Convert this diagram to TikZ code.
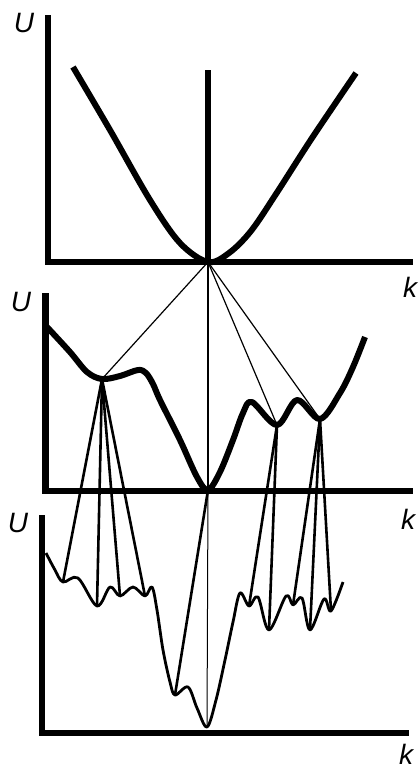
\documentclass[tikz,border=0pt]{standalone}
\usepackage{fontspec}
\setmainfont{Liberation Sans}
\tikzset{
  axis/.style={line width=6.5pt, line join=miter},
  bigcurve/.style={line width=6pt, line join=round},
  finecurve/.style={line width=2.8pt, line join=round},
  link/.style={line width=1.2pt},
  droplink/.style={line width=2.6pt},
  lbl/.style={font=\fontsize{28}{28}\selectfont\itshape, inner sep=0pt},
}
\begin{document}
\begin{tikzpicture}[x=1pt, y=-1pt]
\useasboundingbox (0,0) rectangle (420,769);
% three sets of axes
\draw[axis] (48,15) |- (413,262);
\draw[axis] (45.5,293) |- (413,491);
\draw[axis] (42,515) |- (409,733);
\node[lbl] (U1) at (24,23) {U};
\node[lbl] (k1) at (410,287) {k};
\node[lbl] (U2) at (21,302) {U};
\node[lbl] (k2) at (408,519) {k};
\node[lbl] (U3) at (18,523) {U};
\node[lbl] (k3) at (406,754) {k};
% minima
\coordinate (tO) at (208,262);
\coordinate (tTop) at (208,70);
\coordinate (mA) at (102,379);
\coordinate (mO) at (208,490);
\coordinate (mB) at (277,425);
\coordinate (mC) at (320,419);
\coordinate (bA1) at (63,582);
\coordinate (bA2) at (97,606);
\coordinate (bA3) at (120,596);
\coordinate (bA4) at (145,596);
\coordinate (bO1) at (175,695);
\coordinate (bO) at (207,727);
\coordinate (bB1) at (249,606);
\coordinate (bB2) at (269,630);
\coordinate (bC1) at (293,605);
\coordinate (bC2) at (310,630);
\coordinate (bC3) at (331,611);
% top panel: free band
\draw[bigcurve] plot[smooth, tension=0.55] coordinates {(73,67) (110,130) (150,200) (180,243) (208,262) (229,253) (251,231) (276,194) (312,138) (356,73)};
\draw[line width=5.5pt] (tTop) -- (tO);
% middle panel
\draw[bigcurve] plot[smooth, tension=0.55] coordinates {(47,327) (70,352) (87,372) (102,379) (120,376) (138,370) (146,373) (153,384) (160,400) (180,440) (197,477) (208,490) (220,472) (233,440) (243,413) (252,402) (277,425) (297,400) (320,419) (340,393) (353,367) (365,337)};
\draw[link] (tO) -- (mA);
\draw[link] (tO) -- (mB);
\draw[link] (tO) -- (mC);
\draw[line width=2pt] (tO) -- (mO);
% bottom panel
\draw[finecurve] plot[smooth, tension=0.55] coordinates {(46,553) (55,570) (63,582) (78,578) (97,606) (110,587) (120,596) (133,587) (145,596) (152,587) (157,610) (163,650) (170,682) (175,695) (188,687) (197,708) (207,727) (216,700) (225,660) (233,622) (240,593) (249,606) (258,597) (269,630) (286,596) (293,605) (302,598) (310,630) (324,599) (331,611) (343,582)};
\foreach \b in {bA1,bA2,bA3,bA4} \draw[droplink] (mA) -- (\b);
\foreach \b in {bB1,bB2} \draw[droplink] (mB) -- (\b);
\foreach \b in {bC1,bC2,bC3} \draw[droplink] (mC) -- (\b);
\draw[droplink] (mO) -- (bO1);
\draw[line width=1pt] (mO) -- (bO);
\end{tikzpicture}
\end{document}
